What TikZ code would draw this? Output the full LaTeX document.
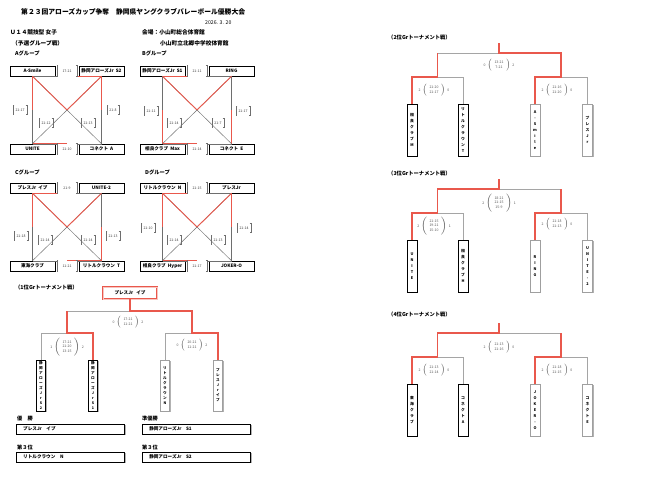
\documentclass[tikz,border=0pt]{standalone}
\usepackage{fontspec}
\setmainfont{Noto Sans CJK JP}
\usetikzlibrary{calc,shadows}
\definecolor{rd}{RGB}{233,88,76}
\definecolor{gl}{RGB}{110,110,110}
\definecolor{gll}{RGB}{165,165,165}
\newcommand{\fsz}[2]{\fontsize{#1}{#2}\selectfont}
\newcommand{\halfln}[2]{\draw[gln] (#1) -- (#2); \draw[rln] (#1) -- ($(#1)!0.5!(#2)$);}
\newcommand{\scr}[3]{#1\hspace{1.8pt}$\left(\begin{tabular}{@{\hspace{2.5pt}}c@{\hspace{2.5pt}}}#2\end{tabular}\right)$\hspace{1.8pt}#3}
\begin{document}
\begin{tikzpicture}[x=1pt,y=-1pt,
 shd/.style={drop shadow={shadow xshift=1.3pt, shadow yshift=-1.3pt, fill=gray!60, opacity=1}},
 tbox/.style={draw=black, line width=0.5pt, fill=white, minimum width=45pt, minimum height=10pt, inner sep=0pt, font=\fsz{4.6}{5}\bfseries, shd},
 gln/.style={draw=gl, line width=0.45pt},
 rln/.style={draw=rd, line width=0.9pt},
 brk/.style={draw=gl, line width=0.6pt, to path={([xshift=1.4pt]\tikztostart) -- (\tikztostart) -- (\tikztotarget) -- ([xshift=1.4pt]\tikztotarget)}},
 brkr/.style={draw=gl, line width=0.6pt, to path={([xshift=-1.4pt]\tikztostart) -- (\tikztostart) -- (\tikztotarget) -- ([xshift=-1.4pt]\tikztotarget)}},
 gsc/.style={font=\fsz{3.5}{4}, text=black!75, inner xsep=2.4pt, inner ysep=0pt, minimum height=9pt,
   append after command={(\tikzlastnode.north west) edge[brk] (\tikzlastnode.south west)
                         (\tikzlastnode.north east) edge[brkr] (\tikzlastnode.south east)}},
 gscw/.style={gsc, fill=white, minimum height=11pt, minimum width=20pt},
 ttl/.style={anchor=west, inner sep=0pt, font=\fsz{6.8}{7}\bfseries},
 hdr/.style={anchor=west, inner sep=0pt, font=\fsz{5.7}{6}\bfseries},
 tg/.style={draw=gll, line width=0.8pt},
 tr/.style={draw=rd, line width=1.1pt},
 tsc/.style={inner sep=0pt, text=black!65, font=\fsz{3.5}{4.8}},
 lf/.style={draw=black, line width=0.5pt, fill=white, minimum width=9pt, minimum height=51pt, inner sep=0pt, align=center, font=\fsz{3.6}{5}\bfseries, shd},
 lfr/.style={lf, draw=gray!75},
 lf2/.style={lf, minimum width=10pt, minimum height=52pt, font=\fsz{3.8}{6}\bfseries},
 lf2r/.style={lf2, draw=gray!75},
 wbx/.style={draw=rd, line width=0.5pt, double=rd!35, double distance=0.6pt, fill=white, minimum width=54pt, minimum height=12pt, inner sep=0pt, font=\fsz{4.6}{5}\bfseries},
 rbx/.style={draw=black, line width=0.5pt, fill=white, minimum height=10pt, text width=94pt, inner xsep=7pt, inner ysep=0pt, align=left, anchor=west, font=\fsz{4.6}{5}\bfseries, shd}]
\useasboundingbox (0,0) rectangle (647,485);
\fill[white] (0,0) rectangle (647,485);

% ---------- header ----------
\node[ttl] (title) at (21,12) {第２３回アローズカップ争奪　静岡県ヤングクラブバレーボール優勝大会};
\node[anchor=west, inner sep=0pt, font=\fsz{5.2}{6}] (date) at (205,23) {2026. 3. 20};
\node[hdr] (cat) at (10,32) {Ｕ１４競技型 女子};
\node[hdr] (venue) at (142,32) {会場：小山町総合体育館};
\node[hdr] (prel) at (12,43) {（予選グループ戦）};
\node[hdr] (venue2) at (160,43) {小山町立北郷中学校体育館};
\node[hdr, font=\fsz{5.3}{6}\bfseries] (gA) at (15,53) {Aグループ};
\node[hdr, font=\fsz{5.3}{6}\bfseries] (gB) at (142,53) {Bグループ};
\node[hdr, font=\fsz{5.3}{6}\bfseries] (gC) at (15,172) {Cグループ};
\node[hdr, font=\fsz{5.3}{6}\bfseries] (gD) at (145,172) {Dグループ};

% ---------- Group A ----------
\node[tbox] (A1) at (32.5,71) {A-Smile};
\node[tbox] (A2) at (101.5,71) {静岡アローズJr\ \ S2};
\node[tbox] (A3) at (32.5,149) {UNITE};
\node[tbox] (A4) at (101.5,149) {コネクト\ \ A};
\halfln{A2.south}{A1.south}
\halfln{A1.south}{A3.north}
\halfln{A2.south}{A4.north}
\halfln{A1.south}{A4.north}
\halfln{A2.south}{A3.north}
\halfln{A3.north}{A4.north}
\node[gscw] (As1) at (67,71) {17-21};
\node[gscw] (As6) at (67,149) {21-10};
\node[gsc] (As2) at (20,110) {21-17};
\node[gsc] (As3) at (113,110) {21-8};
\node[gsc] (As4) at (46,123) {21-12};
\node[gsc] (As5) at (88,123) {21-13};

% ---------- Group B ----------
\begin{scope}[shift={(130,0)}]
\node[tbox] (B1) at (32.5,71) {静岡アローズJr\ \ S1};
\node[tbox] (B2) at (101.5,71) {RING};
\node[tbox] (B3) at (32.5,149) {相良クラブ\ \ Max};
\node[tbox] (B4) at (101.5,149) {コネクト\ \ E};
\halfln{B1.south}{B2.south}
\halfln{B3.north}{B1.south}
\halfln{B4.north}{B2.south}
\halfln{B1.south}{B4.north}
\halfln{B2.south}{B3.north}
\halfln{B3.north}{B4.north}
\node[gscw] (Bs1) at (67,71) {21-11};
\node[gscw] (Bs6) at (67,149) {21-14};
\node[gsc] (Bs2) at (21,111) {21-11};
\node[gsc] (Bs3) at (113,111) {21-17};
\node[gsc] (Bs4) at (44,123) {21-14};
\node[gsc] (Bs5) at (88,123) {21-7};
\end{scope}

% ---------- Group C ----------
\begin{scope}[shift={(0,117)}]
\node[tbox] (C1) at (32.5,71) {プレスJr\ \ イブ};
\node[tbox] (C2) at (101.5,71) {UNITE-2};
\node[tbox] (C3) at (32.5,149) {東海クラブ};
\node[tbox] (C4) at (101.5,149) {リトルクラウン\ \ T};
\halfln{C1.south}{C2.south}
\halfln{C1.south}{C3.north}
\halfln{C4.north}{C2.south}
\halfln{C1.south}{C4.north}
\halfln{C2.south}{C3.north}
\halfln{C4.north}{C3.north}
\node[gscw] (Cs1) at (67,71) {21-9};
\node[gscw] (Cs6) at (67,149) {11-21};
\node[gsc] (Cs2) at (21,119) {21-18};
\node[gsc] (Cs3) at (113,119) {21-13};
\node[gsc] (Cs4) at (45,123) {21-14};
\node[gsc] (Cs5) at (88,123) {21-14};
\end{scope}

% ---------- Group D ----------
\begin{scope}[shift={(130,117)}]
\node[tbox] (D1) at (32.5,71) {リトルクラウン\ \ N};
\node[tbox] (D2) at (101.5,71) {プレスJr};
\node[tbox] (D3) at (32.5,149) {相良クラブ\ \ Hyper};
\node[tbox] (D4) at (101.5,149) {JOKER-O};
\halfln{D1.south}{D2.south}
\halfln{D1.south}{D3.north}
\halfln{D2.south}{D4.north}
\halfln{D1.south}{D4.north}
\halfln{D2.south}{D3.north}
\halfln{D3.north}{D4.north}
\node[gscw] (Ds1) at (67,71) {21-15};
\node[gscw] (Ds6) at (67,149) {21-17};
\node[gsc] (Ds2) at (18,111) {21-10};
\node[gsc] (Ds3) at (114,111) {21-14};
\node[gsc] (Ds4) at (44,123) {21-14};
\node[gsc] (Ds5) at (88,123) {21-13};
\end{scope}

% ---------- 1st place tournament ----------
\node[hdr, font=\fsz{5.3}{6}\bfseries] (t1) at (15,287) {（1位Grトーナメント戦）};
\node[wbx] (W0) at (130,293) {プレスJr\ \ \ イブ};
\node[lf]  (P1) at (41,385.5) {静\\岡\\ア\\ロ\\ー\\ズ\\J\\r\\S\\2};
\node[lf]  (P2) at (93,385.5) {静\\岡\\ア\\ロ\\ー\\ズ\\J\\r\\S\\1};
\node[lfr] (P3) at (165,385.5) {リ\\ト\\ル\\ク\\ラ\\ウ\\ン\\N};
\node[lfr] (P4) at (218,385.5) {プ\\レ\\ス\\J\\r\\イ\\ブ};
\coordinate (P12) at (67,333);
\coordinate (P12t) at (67,311);
\coordinate (P34) at (192,333);
\coordinate (P34t) at (192,311);
\coordinate (PF) at (130,311);
\draw[tg] (P1.north) |- (P12);
\draw[tg] (P12t) -- (PF);
\draw[tg] (P3.north) |- (P34);
\draw[tr] (P2.north) |- (P12) -- (P12t);
\draw[tr] (P4.north) |- (P34) -- (P34t) -- (PF) -- (W0.south);
\node[tsc] (Pf) at (128,322) {\scr{0}{17-21\\11-21}{2}};
\node[tsc] (Pl) at (67,347) {\scr{1}{17-21\\21-20\\13-15}{2}};
\node[tsc] (Pr) at (192,345) {\scr{0}{20-21\\11-21}{2}};

% ---------- final results ----------
\node[hdr, font=\fsz{5.2}{6}\bfseries] (r1l) at (17,419) {優　勝};
\node[hdr, font=\fsz{5.2}{6}\bfseries] (r2l) at (142,419) {準優勝};
\node[hdr, font=\fsz{5.2}{6}\bfseries] (r3l) at (17,447) {第３位};
\node[hdr, font=\fsz{5.2}{6}\bfseries] (r4l) at (142,447) {第３位};
\node[rbx] (r1) at (16,429) {プレスJr　イブ};
\node[rbx] (r2) at (142,429) {静岡アローズJr　S1};
\node[rbx] (r3) at (16,457) {リトルクラウン　N};
\node[rbx] (r4) at (142,457) {静岡アローズJr　S2};

% ---------- 2nd place tournament ----------
\node[hdr, font=\fsz{5.3}{6}\bfseries] (t2) at (388,37) {（2位Grトーナメント戦）};
\node[lf2]  (Q1) at (412,130) {相\\良\\ク\\ラ\\ブ\\M};
\node[lf2]  (Q2) at (463,130) {リ\\ト\\ル\\ク\\ラ\\ウ\\ン\\T};
\node[lf2r] (Q3) at (535,130) {A\\-\\S\\m\\i\\l\\e};
\node[lf2r] (Q4) at (587.5,130) {プ\\レ\\ス\\J\\r};
\coordinate (Q12) at (437.5,77);
\coordinate (Q12t) at (437.5,53);
\coordinate (Q34) at (561,77);
\coordinate (Q34t) at (561,53);
\coordinate (QF) at (499,53);
\coordinate (QT) at (499,43);
\draw[tg] (Q2.north) |- (Q12);
\draw[tg] (Q12t) -- (QF);
\draw[tg] (Q4.north) |- (Q34);
\draw[tr] (Q1.north) |- (Q12) -- (Q12t);
\draw[tr] (Q3.north) |- (Q34) -- (Q34t) -- (QF) -- (QT);
\node[tsc] (Qf) at (499,65) {\scr{0}{13-21\\7-21}{2}};
\node[tsc] (Ql) at (434,90) {\scr{2}{21-20\\21-17}{0}};
\node[tsc] (Qr) at (557,90) {\scr{2}{21-16\\21-20}{0}};

% ---------- 3rd place tournament ----------
\node[hdr, font=\fsz{5.3}{6}\bfseries] (t3) at (388,173) {（3位Grトーナメント戦）};
\node[lf2]  (R1) at (412,266) {U\\N\\I\\T\\E};
\node[lf2]  (R2) at (463,266) {相\\良\\ク\\ラ\\ブ\\H};
\node[lf2r] (R3) at (535,266) {R\\I\\N\\G};
\node[lf2r] (R4) at (587.5,266) {U\\N\\I\\T\\E\\-\\2};
\coordinate (R12) at (437.5,213);
\coordinate (R12t) at (437.5,189);
\coordinate (R34) at (561,213);
\coordinate (R34t) at (561,189);
\coordinate (RF) at (499,189);
\coordinate (RT) at (499,179);
\draw[tg] (R2.north) |- (R12);
\draw[tg] (R4.north) |- (R34);
\draw[tg] (R34t) -- (RF);
\draw[tr] (R1.north) |- (R12) -- (R12t) -- (RF) -- (RT);
\draw[tr] (R3.north) |- (R34) -- (R34t);
\node[tsc] (Rf) at (499,203) {\scr{2}{18-21\\21-15\\15-9}{1}};
\node[tsc] (Rl) at (434,226) {\scr{2}{21-15\\19-21\\15-10}{1}};
\node[tsc] (Rr) at (557,224) {\scr{2}{21-18\\21-13}{0}};

% ---------- 4th place tournament ----------
\node[hdr, font=\fsz{5.3}{6}\bfseries] (t4) at (388,314) {（4位Grトーナメント戦）};
\node[lf2]  (T1) at (412,410) {東\\海\\ク\\ラ\\ブ};
\node[lf2]  (T2) at (463,410) {コ\\ネ\\ク\\ト\\A};
\node[lf2r] (T3) at (535,410) {J\\O\\K\\E\\R\\-\\O};
\node[lf2r] (T4) at (587.5,410) {コ\\ネ\\ク\\ト\\E};
\coordinate (T12) at (437.5,357);
\coordinate (T12t) at (437.5,333);
\coordinate (T34) at (561,357);
\coordinate (T34t) at (561,333);
\coordinate (TF) at (499,333);
\coordinate (TT) at (499,323);
\draw[tg] (T2.north) |- (T12);
\draw[tg] (T4.north) |- (T34);
\draw[tg] (T34t) -- (TF);
\draw[tr] (T1.north) |- (T12) -- (T12t) -- (TF) -- (TT);
\draw[tr] (T3.north) |- (T34) -- (T34t);
\node[tsc] (Tf) at (499,347) {\scr{2}{21-13\\21-16}{0}};
\node[tsc] (Tl) at (434,370) {\scr{2}{21-13\\21-14}{0}};
\node[tsc] (Tr) at (557,370) {\scr{2}{21-18\\21-15}{0}};
\end{tikzpicture}
\end{document}
